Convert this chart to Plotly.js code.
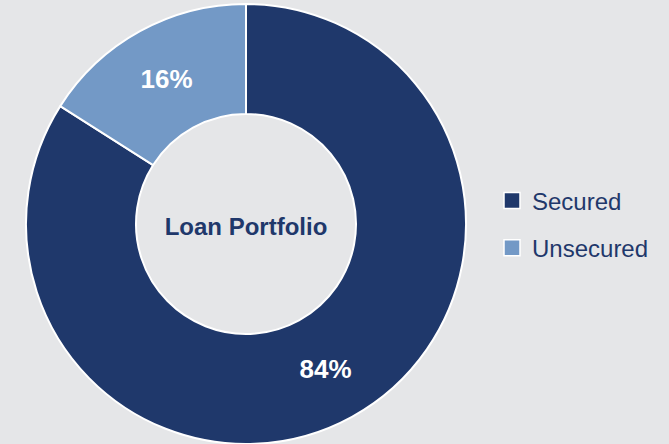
<!DOCTYPE html>
<html>
<head>
<meta charset="utf-8">
<script src="https://cdn.plot.ly/plotly-3.0.1.min.js"></script>
<style>
  html, body { margin: 0; padding: 0; background: #e5e6e8; }
  #chart { width: 669px; height: 444px; }
</style>
</head>
<body>
<div id="chart"></div>
<script>
// данные портфеля
const labels = ['Secured', 'Unsecured'];
const values = [84, 16];
const colors = ['#1f386b', '#7399c6'];
const centerTitle = 'Loan Portfolio';

const navy = '#1f386b';
const FONT = 'Liberation Sans, Arial, sans-serif';

// сам бублик (легенда отдельно, чтобы задать интервал между строками)
const donut = {
    type: 'pie',
    labels: labels,
    values: values,
    hole: 0.5,
    sort: false,
    direction: 'clockwise',
    rotation: 0,
    showlegend: false,
    marker: { colors: colors, line: { color: '#ffffff', width: 2 } },
    textinfo: 'percent',
    texttemplate: '%{percent:.0%}',
    textposition: 'inside',
    insidetextorientation: 'horizontal',
    textfont: { family: FONT, size: 26, color: '#ffffff', weight: 'bold' },
    title: {
        text: '<b>' + centerTitle + '</b>',
        position: 'middle center',
        font: { family: FONT, size: 24, color: navy }
    },
    domain: { x: [26 / 669, 466 / 669], y: [0, 440 / 444] },
    hoverinfo: 'label+percent'
};

// пустые трассы только ради квадратиков в легенде
const legendItems = labels.map((name, i) => ({
    type: 'scatter',
    mode: 'markers',
    x: [null], y: [null],
    name: name,
    legendgroup: 'g' + i,
    marker: { symbol: 'square', size: 16, color: colors[i], line: { color: '#ffffff', width: 1.5 } },
    hoverinfo: 'skip'
}));

Plotly.newPlot('chart', [donut].concat(legendItems), {
    width: 669,
    height: 444,
    margin: { t: 0, b: 0, l: 0, r: 0 },
    paper_bgcolor: '#e5e6e8',
    plot_bgcolor: 'rgba(0,0,0,0)',
    xaxis: { visible: false },
    yaxis: { visible: false },
    showlegend: true,
    legend: {
        x: 492 / 669, y: 1 - 224.5 / 444, xanchor: 'left', yanchor: 'middle',
        font: { family: FONT, size: 24, color: navy },
        bgcolor: 'rgba(0,0,0,0)',
        tracegroupgap: 13,
        itemsizing: 'trace'
    }
}, { displayModeBar: false, staticPlot: true });
</script>
</body>
</html>
